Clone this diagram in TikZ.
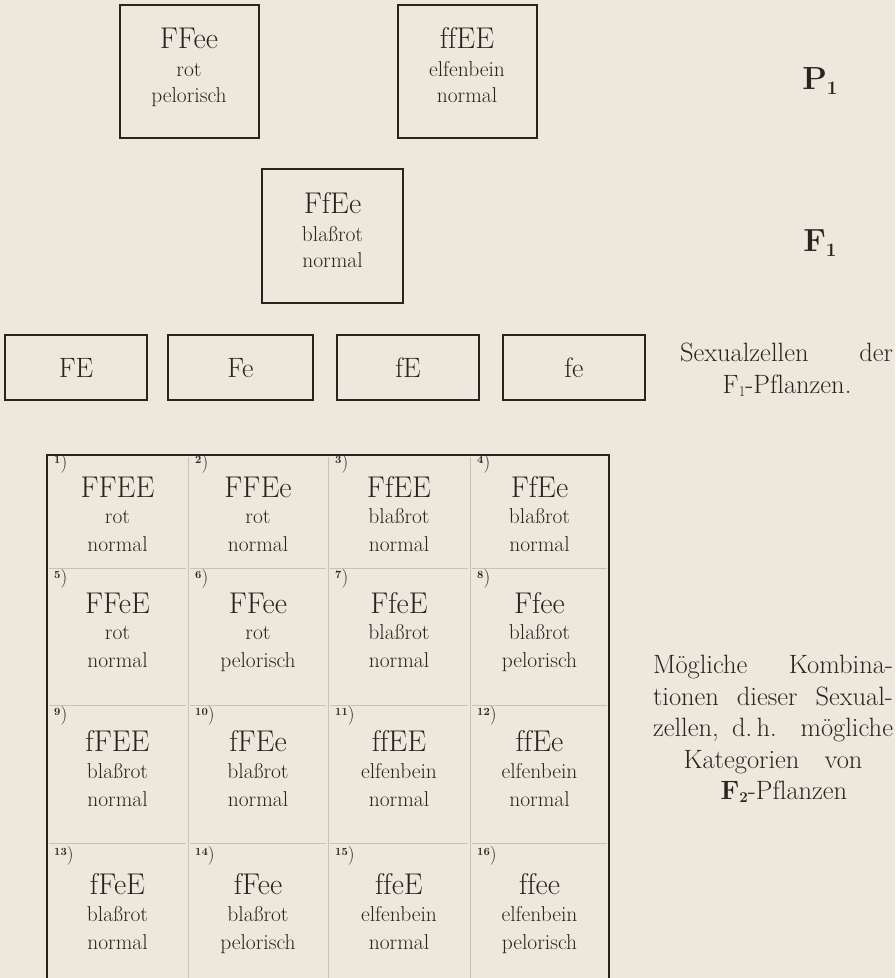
\documentclass[tikz,border=0pt]{standalone}
\usepackage{fontspec}
\setmainfont{Latin Modern Roman}[Ligatures={TeX,NoCommon}]
\definecolor{paper}{HTML}{ECE8DB}
\definecolor{ink}{HTML}{2A2322}
\definecolor{gridc}{HTML}{C6C2B6}
\tikzset{
  genobox/.style={draw=ink, line width=2pt, inner sep=0pt},
  geno/.style={anchor=base, font=\fontsize{30}{30}\selectfont, text=ink, inner sep=0pt},
  small/.style={anchor=base, font=\fontsize{21.5}{21.5}\selectfont, text=ink, inner sep=0pt},
  cell/.style={anchor=base, font=\fontsize{28}{28}\selectfont, text=ink, inner sep=0pt},
  side/.style={anchor=base, font=\fontsize{26.5}{26.5}\selectfont, text=ink, inner sep=0pt},
  gen/.style={anchor=base, font=\fontsize{32}{32}\selectfont\bfseries, text=ink, inner sep=0pt},
  num/.style={anchor=base west, font=\fontsize{19}{19}\selectfont, text=ink, inner sep=0pt},
  outer/.style={draw=ink, line width=2.4pt},
  inner/.style={draw=gridc, line width=1pt}
}
\newcommand{\cellnum}[1]{\raisebox{5pt}{\fontsize{11}{11}\selectfont\bfseries #1})}
\begin{document}
\begin{tikzpicture}[x=1pt,y=-1pt]
\fill[paper] (0,0) rectangle (895,978);
\useasboundingbox (0,0) rectangle (895,978);

% P1 generation
\node[genobox, minimum width=139pt, minimum height=133pt] (pa) at (189,71.5) {};
\node[geno] (pag) at (189,48) {FFee};
\node[small] (pa1) at (189,76) {rot};
\node[small] (pa2) at (189,102) {pelorisch};
\node[genobox, minimum width=139pt, minimum height=133pt] (pb) at (467,71.5) {};
\node[geno] (pbg) at (467,48) {ffEE};
\node[small] (pb1) at (467,76) {elfenbein};
\node[small] (pb2) at (467,102) {normal};
\node[gen] (lp) at (820,89) {P\raisebox{-5pt}{\fontsize{19}{19}\selectfont 1}};

% F1 generation
\node[genobox, minimum width=141pt, minimum height=134pt] (fa) at (332.5,236) {};
\node[geno] (fag) at (332.5,213) {FfEe};
\node[small] (fa1) at (332.5,241) {blaßrot};
\node[small] (fa2) at (332.5,267) {normal};
\node[gen] (lf) at (820,251) {F\raisebox{-5pt}{\fontsize{19}{19}\selectfont 1}};

% sexual cells
\node[genobox, minimum width=142pt, minimum height=65pt] (s1) at (76,367.5) {};
\node[genobox, minimum width=145pt, minimum height=65pt] (s2) at (240.5,367.5) {};
\node[genobox, minimum width=142pt, minimum height=65pt] (s3) at (408,367.5) {};
\node[genobox, minimum width=142pt, minimum height=65pt] (s4) at (574,367.5) {};
\node[cell] (t1) at (76,377) {FE};
\node[cell] (t2) at (240.5,377) {Fe};
\node[cell] (t3) at (408,377) {fE};
\node[cell] (t4) at (574,377) {fe};
\node[side] (sx1) at (786.5,361) {\makebox[213pt][s]{Sexualzellen der}};
\node[side] (sx2) at (787,393) {F\raisebox{-3pt}{\fontsize{15}{15}\selectfont 1}-Pflanzen.};

% grid
\foreach \x in {188,328,470} \draw[inner] (\x,457) -- (\x,978);
\foreach \y in {568,705,843}
  \foreach \a/\b in {49/186,190/326,330/468,472/607}
    \draw[inner] (\a,\y) -- (\b,\y);
\draw[outer] (47,978) -- (47,455) -- (609,455) -- (609,978);

\foreach \i/\g/\a/\b in {1/FFEE/rot/normal,2/FFEe/rot/normal,3/FfEE/blaßrot/normal,4/FfEe/blaßrot/normal,5/FFeE/rot/normal,6/FFee/rot/pelorisch,7/FfeE/blaßrot/normal,8/Ffee/blaßrot/pelorisch,9/fFEE/blaßrot/normal,10/fFEe/blaßrot/normal,11/ffEE/elfenbein/normal,12/ffEe/elfenbein/normal,13/fFeE/blaßrot/normal,14/fFee/blaßrot/pelorisch,15/ffeE/elfenbein/normal,16/ffee/elfenbein/pelorisch}
{
  \pgfmathtruncatemacro\col{mod(\i-1,4)}
  \pgfmathtruncatemacro\row{div(\i-1,4)}
  \pgfmathsetmacro\xl{{47,188,328,470}[\col]}
  \pgfmathsetmacro\xc{{117.5,258,399,539.5}[\col]}
  \pgfmathsetmacro\yt{{455,568,705,843}[\row]}
  \pgfmathsetmacro\on{{8,10,10,12}[\row]}
  \pgfmathsetmacro\og{{32,35,36,41}[\row]}
  \pgfmathsetmacro\oa{{63,66,68,73}[\row]}
  \pgfmathsetmacro\ob{{91,94,96,101}[\row]}
  \node[num] (n\i) at ({\xl+7},{\yt+\on+5}) {\cellnum{\i}};
  \node[geno] (g\i) at ({\xc},{\yt+\og+10}) {\g};
  \node[small] (a\i) at ({\xc},{\yt+\oa+5}) {\a};
  \node[small] (b\i) at ({\xc},{\yt+\ob+5}) {\b};
}

% side text
\node[side] (m1) at (773,673) {\makebox[240pt][s]{Mögliche Kombina-}};
\node[side] (m2) at (773,705) {\makebox[240pt][s]{tionen dieser Sexual-}};
\node[side] (m3) at (773,736) {\makebox[240pt][s]{zellen, d.\,h. mögliche}};
\node[side] (m4) at (773,768) {\makebox[179pt][s]{Kategorien von}};
\node[side] (m5) at (784,799) {\textbf{F}\raisebox{-3pt}{\fontsize{15}{15}\selectfont\bfseries 2}-Pflanzen};
\end{tikzpicture}
\end{document}
